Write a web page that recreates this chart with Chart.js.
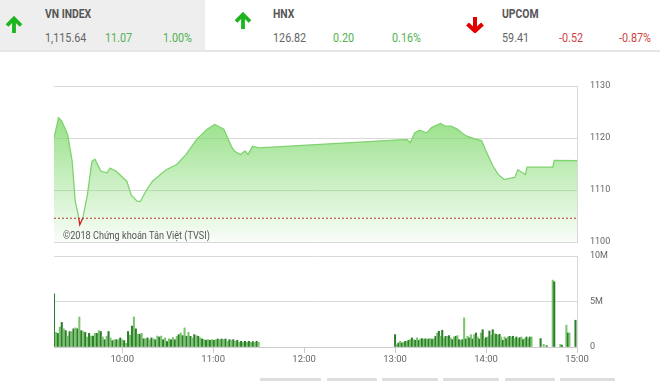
<!DOCTYPE html>
<html><head><meta charset="utf-8">
<script src="https://cdn.jsdelivr.net/npm/chart.js@4.4.0/dist/chart.umd.min.js"></script>
<style>
html,body{margin:0;padding:0}
body{width:660px;height:381px;overflow:hidden;background:#fff;position:relative;font-family:Roboto,'DejaVu Sans Condensed',sans-serif}
.abs{position:absolute;white-space:nowrap}
.sq{transform:scaleX(0.83);transform-origin:0 0}
#vnbox{left:0;top:0;width:205px;height:50px;background:#eeeeee}
#hline{left:0;top:50px;width:660px;height:2px;background:#e6e6e6}
.name{font-size:12.5px;line-height:12px;font-weight:bold;color:#555}
.num{font-size:13px;line-height:13px;color:#666}
.up{color:#52b152}
.down{color:#d04444}
#copy{left:63px;top:230px;font-size:11px;line-height:11px;color:#555}
.btn{top:378px;height:3px;background:#dddddd;border-radius:1px}
</style></head>
<body>
<div id="vnbox" class="abs"></div>
<div id="hline" class="abs"></div>

<svg class="abs" style="left:5px;top:16px" width="18" height="18" viewBox="0 0 18 18"><path d="M2 9.5 L9 2.5 L16 9.5 M9 3.5 V17" fill="none" stroke="#1db41d" stroke-width="3.8" stroke-linejoin="miter"/></svg>
<div class="abs name sq" style="left:45px;top:8px">VN INDEX</div>
<div class="abs num sq" style="left:45px;top:31px">1,115.64</div>
<div class="abs num up sq" style="left:105px;top:31px">11.07</div>
<div class="abs num up sq" style="left:163px;top:31px">1.00%</div>

<svg class="abs" style="left:234px;top:12px" width="18" height="18" viewBox="0 0 18 18"><path d="M2 9.5 L9 2.5 L16 9.5 M9 3.5 V17" fill="none" stroke="#1db41d" stroke-width="3.8" stroke-linejoin="miter"/></svg>
<div class="abs name sq" style="left:273px;top:8px">HNX</div>
<div class="abs num sq" style="left:273px;top:31px">126.82</div>
<div class="abs num up sq" style="left:333px;top:31px">0.20</div>
<div class="abs num up sq" style="left:392px;top:31px">0.16%</div>

<svg class="abs" style="left:465px;top:16px" width="20" height="17" viewBox="0 0 20 17"><path d="M2.5 8 L10 15 L17.5 8 M10 1 V14" fill="none" stroke="#e00000" stroke-width="4" stroke-linejoin="miter"/></svg>
<div class="abs name sq" style="left:502px;top:8px">UPCOM</div>
<div class="abs num sq" style="left:502px;top:31px">59.41</div>
<div class="abs num down sq" style="left:559px;top:31px">-0.52</div>
<div class="abs num down sq" style="left:619px;top:31px">-0.87%</div>

<canvas id="price" class="abs" style="left:0;top:76px" width="660" height="174"></canvas>
<canvas id="vol" class="abs" style="left:0;top:246px" width="660" height="121"></canvas>
<div id="copy" class="abs sq">©2018 Chứng khoán Tân Việt (TVSI)</div>

<div class="abs btn" style="left:260px;width:61px"></div>
<div class="abs btn" style="left:327px;width:50px"></div>
<div class="abs btn" style="left:382px;width:56px"></div>
<div class="abs btn" style="left:443px;width:56px"></div>
<div class="abs btn" style="left:505px;width:50px"></div>
<div class="abs btn" style="left:560px;width:55px"></div>

<script>
// ---------- DATA ----------
const sessionStart = '09:15';
const sessionEnd = '15:00';
const lunchStart = '11:30';
const afternoonStart = '13:00';
const continuousEnd = '14:30';
const refPrice = 1104.57;

const priceTimes = ['09:15','09:18','09:20','09:22','09:24','09:27','09:29','09:31','09:32','09:34','09:37','09:40','09:42','09:46','09:50','09:52','09:56','10:03','10:06','10:10','10:12','10:16','10:20','10:29','10:36','10:42','10:49','10:56','11:01','11:07','11:12','11:14','11:18','11:21','11:23','11:26','11:30','13:00','13:08','13:10','13:13','13:16','13:21','13:24','13:30','13:33','13:37','13:41','13:44','13:47','13:52','13:57','14:00','14:04','14:08','14:12','14:16','14:19','14:21','14:23','14:26','14:27','14:44','14:45','15:00'];
const priceValues = [1120.0,1123.9,1123.3,1122.0,1120.7,1115.5,1107.8,1105.2,1103.3,1104.6,1109.0,1115.5,1115.9,1113.6,1113.3,1114.2,1113.6,1111.7,1109.0,1107.8,1107.8,1110.0,1111.7,1113.9,1114.9,1116.8,1119.7,1121.7,1122.6,1121.7,1118.4,1117.5,1116.8,1117.5,1116.8,1118.4,1118.1,1119.6,1119.7,1119.1,1121.0,1121.5,1121.0,1122.0,1122.8,1122.3,1122.3,1121.7,1121.0,1120.4,1119.9,1119.5,1117.5,1114.9,1113.0,1112.0,1112.3,1112.4,1113.9,1113.5,1113.0,1114.4,1114.4,1115.7,1115.64];

// volume in millions of shares
const morningVolume = [5.85,1.6,1.5,2.2,2.7,2.0,1.8,1.2,1.7,1.7,2.0,2.1,2.0,3.3,1.8,1.7,1.6,1.1,1.5,1.2,1.2,1.5,1.5,1.8,1.7,1.1,0.8,1.2,1.7,1.0,0.7,0.8,0.8,0.8,1.0,0.8,0.7,0.4,1.7,1.3,2.3,3.3,2.0,1.4,1.4,1.5,0.9,0.9,1.0,0.8,1.0,0.9,0.8,1.2,1.1,1.2,
  0.8,1.0,0.6,0.9,0.8,1.06,0.8,1.18,1.36,1.54,1.25,2.1,1.18,1.62,1.18,1.0,1.36,1.25,1.18,1.0,0.88,0.81,0.74,0.81,0.74,0.81,0.74,0.81,0.88,0.81,0.88,0.81,0.88,0.63,0.81,0.74,0.81,0.63,0.74,0.51,0.63,0.51,0.63,0.51,0.63,0.51,0.59,0.51,0.63,0.51];
const afternoonVolume = [1.36,0.26,0.44,0.63,0.44,0.51,0.63,0.63,0.74,0.81,1.0,0.81,0.74,1.0,0.74,0.88,0.92,0.85,0.9,0.86,0.88,0.92,0.85,0.9,1.18,1.54,1.73,1.18,1.84,1.0,1.18,1.18,1.25,1.0,0.81,1.1,1.18,1.25,0.81,0.74,0.81,3.2,0.88,1.18,1.0,1.36,0.88,1.36,1.54,1.1,0.88,1.54,
  1.9,0.92,1.03,1.1,1.76,1.29,1.9,1.47,1.4,1.29,1.4,1.1,0.74,1.1,0.92,1.1,1.18,1.1,1.18,0.92,1.1,0.92,1.03,1.1,0.81,0.92,1.1,0.92,1.1,1.1];
const tailTimes = ['14:36','14:38','14:40','14:44','14:45','14:49','14:50','14:53','14:54','14:55','14:59'];
const tailVolume = [0.92,0.3,0.15,7.35,7.17,0.3,0.2,2.4,1.54,1.54,2.94];

const timeTicks = ['10:00','11:00','12:00','13:00','14:00','15:00'];
const priceTicks = [1100,1110,1120,1130];
const volumeTicks = [0,5,10];
const volumeTickLabels = ['0','5M','10M'];

// ---------- HELPERS ----------
const FONT = "Roboto,'DejaVu Sans Condensed',sans-serif";
const toMin = t => { const p = t.split(':').map(Number); return p[0]*60 + p[1]; };
const fmt = v => Math.floor(v/60) + ':' + String(Math.round(v%60)).padStart(2,'0');
const spread = (vals, a, b) => vals.map((v,i) => ({x: toMin(a) + i*(toMin(b)-toMin(a))/(vals.length-1), y: v}));
const noPadY = s => { s.width = 83; s.paddingTop = 0; s.paddingBottom = 0; };

const GREEN_LINE = '#7fd36e';
const RED_LINE = '#cc1f1f';

function lineStroke(ctx){
  const chart = ctx.chart; const area = chart.chartArea;
  if(!area) return GREEN_LINE;
  const yr = chart.scales.y.getPixelForValue(refPrice);
  const t = Math.min(1, Math.max(0, (yr - area.top)/(area.bottom - area.top)));
  const g = chart.ctx.createLinearGradient(0, area.top, 0, area.bottom);
  g.addColorStop(0, GREEN_LINE); g.addColorStop(t, GREEN_LINE);
  g.addColorStop(t, RED_LINE); g.addColorStop(1, RED_LINE);
  return g;
}
function fillGrad(ctx){
  const chart = ctx.chart; const area = chart.chartArea;
  if(!area) return 'rgba(120,215,100,0.5)';
  const g = chart.ctx.createLinearGradient(0, area.top, 0, area.bottom);
  g.addColorStop(0, 'rgba(120,215,100,0.95)');
  g.addColorStop(1, 'rgba(120,215,100,0.04)');
  return g;
}

// ---------- PRICE CHART ----------
new Chart(document.getElementById('price'), {
  type: 'line',
  data: { datasets: [
    { data: [{x: toMin(sessionStart), y: refPrice}, {x: toMin(sessionEnd), y: refPrice}],
      borderColor: '#b0392b', borderDash: [2,2], borderWidth: 1, pointRadius: 0, fill: false },
    { data: priceTimes.map((t,i) => ({x: toMin(t), y: priceValues[i]})),
      borderColor: lineStroke, backgroundColor: fillGrad, fill: 'start',
      borderWidth: 1.3, pointRadius: 0, tension: 0 }
  ]},
  options: {
    responsive: false, animation: false, events: [],
    layout: { padding: { left: 54, top: 10, bottom: 8, right: 0 } },
    plugins: { legend: { display: false }, tooltip: { enabled: false } },
    scales: {
      x: { type: 'linear', min: toMin(sessionStart), max: toMin(sessionEnd), display: false },
      y: { position: 'right', min: 1100, max: 1130,
        afterBuildTicks: s => { s.ticks = priceTicks.map(v => ({value: v})); },
        afterFit: noPadY,
        grid: { color: '#d9d9d9', drawTicks: false },
        border: { display: true, color: '#d9d9d9' },
        ticks: { padding: 13, color: '#666', font: { family: FONT, size: 9 }, callback: v => String(v) } }
    }
  }
});

// ---------- VOLUME CHART ----------
const volPoints = spread(morningVolume, sessionStart, lunchStart)
  .concat(spread(afternoonVolume, afternoonStart, continuousEnd))
  .concat(tailTimes.map((t,i) => ({x: toMin(t), y: tailVolume[i]})));

new Chart(document.getElementById('vol'), {
  type: 'bar',
  data: { datasets: [{
    data: volPoints,
    backgroundColor: ctx => (ctx.dataIndex % 2 ? '#7cc46f' : '#2c7d2c'),
    barThickness: 1.4, grouped: false, borderWidth: 0
  }]},
  options: {
    responsive: false, animation: false, events: [],
    layout: { padding: { left: 54, top: 10, bottom: 0, right: 0 } },
    plugins: { legend: { display: false }, tooltip: { enabled: false } },
    scales: {
      x: { type: 'linear', min: toMin(sessionStart), max: toMin(sessionEnd), offset: false,
        afterBuildTicks: s => { s.ticks = timeTicks.map(t => ({value: toMin(t)})); },
        afterFit: s => { s.height = 20; s.paddingLeft = 0; s.paddingRight = 0; },
        grid: { drawOnChartArea: false, drawTicks: true, tickLength: 6, color: '#cccccc', offset: false },
        border: { display: true, color: '#cccccc' },
        ticks: { color: '#666', padding: 1, maxRotation: 0, autoSkip: false, font: { family: FONT, size: 9.5 },
          callback: v => fmt(v) } },
      y: { position: 'right', min: 0, max: 10,
        afterBuildTicks: s => { s.ticks = volumeTicks.map(v => ({value: v})); },
        afterFit: noPadY,
        grid: { color: '#d9d9d9', drawTicks: false },
        border: { display: true, color: '#d9d9d9' },
        ticks: { padding: 13, color: '#666', font: { family: FONT, size: 9 },
          callback: v => volumeTickLabels[volumeTicks.indexOf(v)] } }
    }
  }
});
</script>
</body></html>
